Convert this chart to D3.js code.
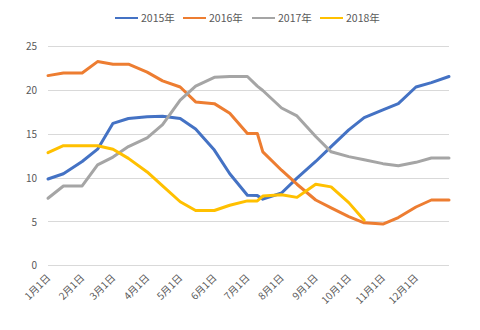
<!DOCTYPE html>
<html><head><meta charset="utf-8">
<script src="https://cdn.jsdelivr.net/npm/d3@7"></script>
<style>
body{margin:0;background:#fff;}
svg{display:block;font-family:"Noto Sans CJK SC","Noto Sans",sans-serif;}
</style></head>
<body><svg id="c" width="480" height="330"></svg>
<script>
// Dates (month/day) of the observations
const dates = ["1/1","1/15","2/1","2/15","3/1","3/15","4/1","4/15","5/1","5/15","6/1","6/15",
  "7/1","7/10","7/15","8/1","8/15","9/1","9/15","10/1","10/15","11/1","11/15","12/1","12/15","12/31"];
const seriesNames = ["2015年","2016年","2017年","2018年"];
const v2015 = [9.9,10.5,11.9,13.3,16.25,16.8,17.0,17.05,16.8,15.6,13.2,10.5,8.05,8.0,7.6,8.3,10.0,11.9,13.6,15.5,16.9,17.8,18.5,20.4,20.9,21.6];
const v2016 = [21.7,22.0,22.0,23.3,23.0,23.0,22.1,21.1,20.4,18.7,18.5,17.4,15.1,15.1,13.0,10.9,9.3,7.5,6.6,5.6,4.9,4.75,5.5,6.7,7.5,7.5];
const v2017 = [7.7,9.1,9.1,11.5,12.4,13.6,14.6,16.1,18.9,20.5,21.5,21.6,21.6,20.5,20.0,18.0,17.1,14.75,13.0,12.45,12.1,11.65,11.4,11.8,12.3,12.3];
const v2018 = [12.9,13.7,13.7,13.7,13.3,12.25,10.7,9.1,7.3,6.3,6.3,6.9,7.4,7.4,7.95,8.1,7.8,9.3,9.0,7.2,5.2];
const yTicks = [0,5,10,15,20,25];
const xTickLabels = ["1月1日","2月1日","3月1日","4月1日","5月1日","6月1日","7月1日","8月1日","9月1日","10月1日","11月1日","12月1日"];
const colors = ["#4472C4","#ED7D31","#A5A5A5","#FFC000"];

const parse = s => { const [m,d] = s.split("/").map(Number); return new Date(2015, m-1, d); };
const allSeries = [v2015, v2016, v2017, v2018].map((vals,i) => ({
  name: seriesNames[i], color: colors[i],
  pts: vals.map((v,j) => ({date: parse(dates[j]), v}))
}));

const svg = d3.select("#c");
const x = d3.scaleTime().domain([new Date(2015,0,1), new Date(2015,11,31)]).range([48, 449]);
const y = d3.scaleLinear().domain([0,25]).range([265.7, 46.7]);

// gridlines
svg.append("g").selectAll("line").data(yTicks).join("line")
  .attr("x1", 48).attr("x2", 449)
  .attr("y1", d => y(d)).attr("y2", d => y(d))
  .attr("stroke", "#d9d9d9").attr("stroke-width", 1).attr("shape-rendering","crispEdges");

// y axis labels
const yAxis = d3.axisLeft(y).tickValues(yTicks).tickSize(0).tickPadding(0);
const gy = svg.append("g").attr("transform","translate(37,0)").call(yAxis);
gy.select(".domain").remove();
gy.selectAll("text").attr("fill","#595959").attr("font-size","10px")
  .style("font-family","'Noto Sans CJK SC','Noto Sans',sans-serif");

// x axis labels
const tickDates = xTickLabels.map((_,i) => new Date(2015, i, 1));
const xAxis = d3.axisBottom(x).tickValues(tickDates).tickSize(0).tickPadding(0)
  .tickFormat((d,i) => xTickLabels[i]);
const gx = svg.append("g").attr("transform","translate(0,276)").call(xAxis);
gx.select(".domain").remove();
gx.selectAll("text").attr("fill","#595959").attr("font-size","10px")
  .style("font-family","'Noto Sans CJK SC','Noto Sans',sans-serif")
  .attr("text-anchor","end").attr("dy","0.35em").attr("dx","0")
  .attr("transform","rotate(-45)");

// lines
const line = d3.line().x(d => x(d.date)).y(d => y(d.v));
svg.append("g").selectAll("path").data(allSeries).join("path")
  .attr("d", d => line(d.pts)).attr("fill","none")
  .attr("stroke", d => d.color).attr("stroke-width", 3)
  .attr("stroke-linejoin","round").attr("stroke-linecap","round");

// legend
const legendX = [115, 183, 252, 320];
const lg = svg.append("g").selectAll("g").data(allSeries).join("g")
  .attr("transform", (d,i) => `translate(${legendX[i]},18)`);
lg.append("line").attr("x1",0).attr("x2",23).attr("y1",0).attr("y2",0)
  .attr("stroke", d => d.color).attr("stroke-width", 2);
lg.append("text").attr("x",26).attr("y",0).attr("dy","0.35em")
  .attr("font-size","10.5px").attr("fill","#595959").text(d => d.name);
</script></body></html>
